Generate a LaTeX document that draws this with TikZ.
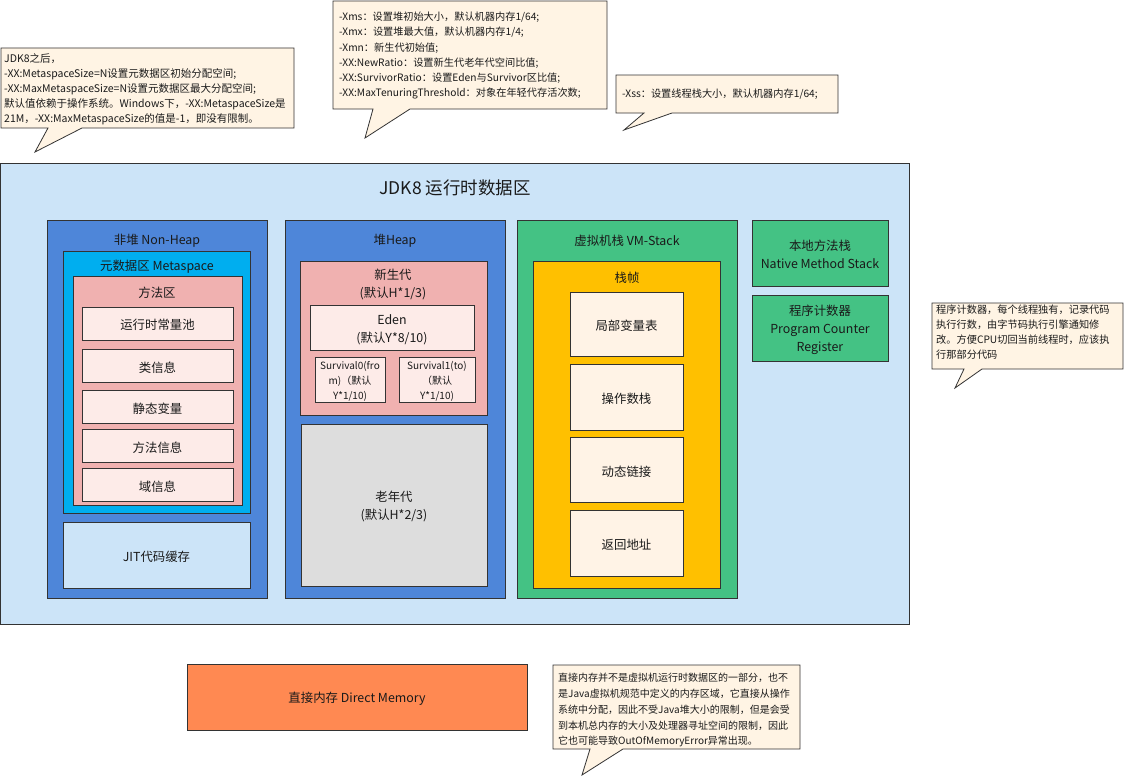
\documentclass[tikz,border=0pt]{standalone}
\usepackage{fontspec}
\setmainfont{Noto Sans CJK SC}
\usetikzlibrary{fit}

\definecolor{bgblue}{HTML}{CCE4F8}
\definecolor{midblue}{HTML}{4E86D9}
\definecolor{cyanbox}{HTML}{00AEEF}
\definecolor{pinkbox}{HTML}{F0B1B0}
\definecolor{palepink}{HTML}{FDEBE8}
\definecolor{oldgray}{HTML}{DDDDDD}
\definecolor{greenbox}{HTML}{44C284}
\definecolor{amber}{HTML}{FFC000}
\definecolor{cream}{HTML}{FFF3E6}
\definecolor{orangebox}{HTML}{FF8952}
\definecolor{notefill}{HTML}{FFF4E4}
\definecolor{edge}{HTML}{333333}
\definecolor{ink}{HTML}{1A1A1A}

\tikzset{
  area/.style={draw=edge, line width=0.9pt, inner sep=0pt, outer sep=0pt},
  lbl/.style={text=ink, inner sep=0pt, yshift=-1.8pt, font=\fontsize{12.4}{18}\selectfont, align=center},
  title/.style={text=ink, inner sep=0pt, font=\fontsize{17.5}{20}\selectfont},
  note/.style={draw=edge, line width=0.8pt, fill=notefill},
  notetext/.style={text=ink, inner sep=0pt, anchor=north west, align=left},
}

\begin{document}
\begin{tikzpicture}[x=1pt, y=-1pt]
\useasboundingbox[fill=white] (0,0) rectangle (1124,776);

% runtime data area
\node[area, fill=bgblue, fit={(0,163) (909,624)}] (rda) {};
\node[title] (rdatitle) at (455,188) {JDK8 运行时数据区};

% non-heap column
\node[area, fill=midblue, fit={(47,220) (267,598)}] (nonheap) {};
\node[lbl] (nonheaplbl) at (157,239) {非堆 Non-Heap};
\node[area, fill=cyanbox, fit={(63,251) (250,513)}] (meta) {};
\node[lbl] (metalbl) at (157,265) {元数据区 Metaspace};
\node[area, fill=pinkbox, fit={(73,276) (242,505)}] (method) {};
\node[lbl] (methodlbl) at (157,291) {方法区};
\node[area, fill=palepink, fit={(82,307) (233,340)}] (m1) {};
\node[lbl] at (m1) {运行时常量池};
\node[area, fill=palepink, fit={(82,349) (233,382)}] (m2) {};
\node[lbl] at (m2) {类信息};
\node[area, fill=palepink, fit={(82,390) (233,423)}] (m3) {};
\node[lbl] at (m3) {静态变量};
\node[area, fill=palepink, fit={(82,429) (233,462)}] (m4) {};
\node[lbl] at (m4) {方法信息};
\node[area, fill=palepink, fit={(82,468) (233,501)}] (m5) {};
\node[lbl] at (m5) {域信息};
\node[area, fill=bgblue, fit={(63,522) (250,588)}] (jit) {};
\node[lbl] at (jit) {JIT代码缓存};

% heap column
\node[area, fill=midblue, fit={(285,220) (505,598)}] (heap) {};
\node[lbl] (heaplbl) at (395,239) {堆Heap};
\node[area, fill=pinkbox, fit={(300,261) (487,415)}] (young) {};
\node[lbl] (younglbl) at (393,283) {新生代\\(默认H*1/3)};
\node[area, fill=palepink, fit={(310,305) (474,350)}] (eden) {};
\node[lbl] at (eden) {Eden\\(默认Y*8/10)};
\node[area, fill=palepink, fit={(315,357) (385,402)}] (s0) {};
\node[lbl, font=\fontsize{10}{15}\selectfont] at (s0) {Survival0(fro\\m)（默认\\Y*1/10)};
\node[area, fill=palepink, fit={(399,357) (475,402)}] (s1) {};
\node[lbl, font=\fontsize{10}{15}\selectfont] at (s1) {Survival1(to)\\（默认\\Y*1/10)};
\node[area, fill=oldgray, fit={(301,424) (487,586)}] (old) {};
\node[lbl] at (old) {老年代\\(默认H*2/3)};

% VM stack column
\node[area, fill=greenbox, fit={(517,220) (737,598)}] (vmstack) {};
\node[lbl] (vmstacklbl) at (627,239) {虚拟机栈 VM-Stack};
\node[area, fill=amber, fit={(533,261) (720,588)}] (frame) {};
\node[lbl] (framelbl) at (627,276) {栈帧};
\node[area, fill=cream, fit={(570,292) (683,356)}] (f1) {};
\node[lbl] at (f1) {局部变量表};
\node[area, fill=cream, fit={(570,364) (683,430)}] (f2) {};
\node[lbl] at (f2) {操作数栈};
\node[area, fill=cream, fit={(570,437) (683,502)}] (f3) {};
\node[lbl] at (f3) {动态链接};
\node[area, fill=cream, fit={(570,510) (683,576)}] (f4) {};
\node[lbl] at (f4) {返回地址};

% native stack and program counter
\node[area, fill=greenbox, fit={(752,220) (888,286)}] (native) {};
\node[lbl] at (native) {本地方法栈\\Native Method Stack};
\node[area, fill=greenbox, fit={(752,295) (888,361)}] (pc) {};
\node[lbl] at (pc) {程序计数器\\Program Counter\\Register};

% direct memory
\node[area, fill=orangebox, fit={(187,664) (527,730)}] (direct) {};
\node[lbl] at (direct) {直接内存 Direct Memory};

% callouts
\draw[note] (1,48) -- (294,48) -- (294,128) -- (82,128) -- (35,152) -- (48,128) -- (1,128) -- cycle;
\node[notetext, font=\fontsize{10.5}{15.2}\selectfont] (metanote) at (4,53)
  {JDK8之后，\\-XX:MetaspaceSize=N设置元数据区初始分配空间;\\-XX:MaxMetaspaceSize=N设置元数据区最大分配空间;\\默认值依赖于操作系统。Windows下，-XX:MetaspaceSize是\\21M，-XX:MaxMetaspaceSize的值是-1，即没有限制。};

\draw[note] (333,1) -- (607,1) -- (607,109) -- (410,109) -- (365,138) -- (373,109) -- (333,109) -- cycle;
\node[notetext, font=\fontsize{10.2}{15.2}\selectfont] (heapnote) at (339,12)
  {-Xms：设置堆初始大小，默认机器内存1/64;\\-Xmx：设置堆最大值，默认机器内存1/4;\\-Xmn：新生代初始值;\\-XX:NewRatio：设置新生代老年代空间比值;\\-XX:SurvivorRatio：设置Eden与Survivor区比值;\\-XX:MaxTenuringThreshold：对象在年轻代存活次数;};

\draw[note] (616,75) -- (838,75) -- (838,113) -- (672,113) -- (624,130) -- (644,113) -- (616,113) -- cycle;
\node[notetext, anchor=west, font=\fontsize{10.2}{14}\selectfont] (xssnote) at (622,94)
  {-Xss：设置线程栈大小，默认机器内存1/64;};

\draw[note] (932,303) -- (1123,303) -- (1123,369) -- (982,369) -- (955,388) -- (964,369) -- (932,369) -- cycle;
\node[notetext, font=\fontsize{10.2}{14.8}\selectfont] (pcnote) at (936,305)
  {程序计数器，每个线程独有，记录代码\\执行行数，由字节码执行引擎通知修\\改。方便CPU切回当前线程时，应该执\\行那部分代码};

\draw[note] (553,665) -- (800,665) -- (800,749) -- (623,749) -- (582,775) -- (590,749) -- (553,749) -- cycle;
\node[notetext, font=\fontsize{10}{15.8}\selectfont] (directnote) at (558,673)
  {直接内存并不是虚拟机运行时数据区的一部分，也不\\是Java虚拟机规范中定义的内存区域，它直接从操作\\系统中分配，因此不受Java堆大小的限制，但是会受\\到本机总内存的大小及处理器寻址空间的限制，因此\\它也可能导致OutOfMemoryError异常出现。};

\end{tikzpicture}
\end{document}
